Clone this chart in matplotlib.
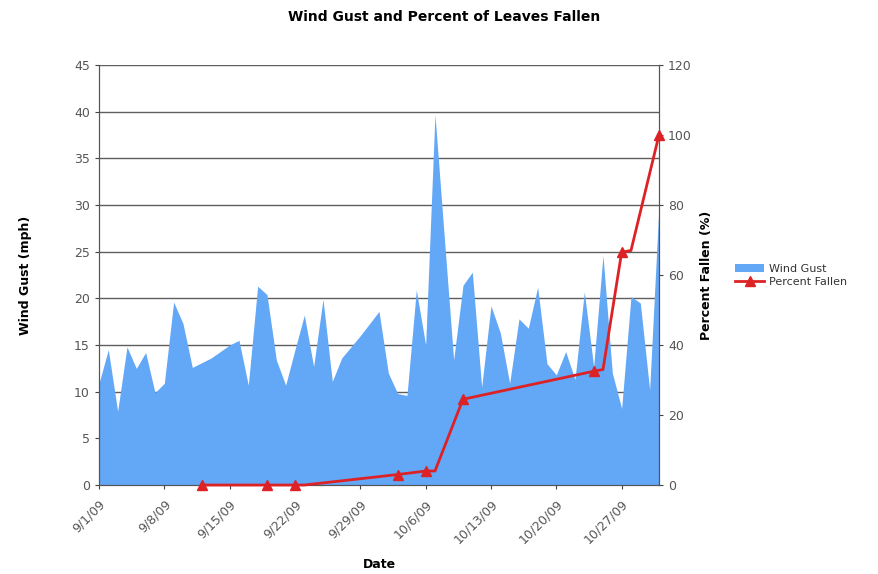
import numpy as np
import pandas as pd
import matplotlib
import matplotlib.pyplot as plt
import matplotlib.dates as mdates

matplotlib.use("Agg")

# Daily wind gust (mph), 9/1/09 - 10/31/09
gustDates = pd.date_range("2009-09-01", "2009-10-31", freq="D")
gustValues = [10.9, 14.5, 7.9, 14.8, 12.5, 14.2, 9.9, 10.9, 19.6, 17.3,
              12.6, 13.1, 13.6, 14.3, 15.0, 15.5, 10.7, 21.3, 20.4, 13.4,
              10.7, 14.5, 18.2, 12.7, 19.9, 11.1, 13.6, 14.8, 16.0, 17.3,
              18.6, 12.0, 9.8, 9.6, 20.9, 15.0, 39.7, 26.5, 13.4, 21.4,
              22.8, 10.5, 19.2, 16.3, 10.9, 17.8, 16.8, 21.2, 13.0, 11.8,
              14.3, 11.3, 20.7, 12.7, 24.6, 12.0, 8.2, 20.2, 19.5, 10.2,
              30.0]

# Percent of leaves fallen (observation days carry a marker)
pctDates = pd.to_datetime(["2009-09-12", "2009-09-19", "2009-09-22", "2009-09-23",
                           "2009-10-03", "2009-10-06", "2009-10-07", "2009-10-10",
                           "2009-10-24", "2009-10-25", "2009-10-27", "2009-10-28",
                           "2009-10-31"])
pctValues = [0, 0, 0, 0, 3, 4, 4, 24.5, 32.5, 33, 66.5, 67, 100]
pctMarked = [0, 1, 2, 4, 5, 7, 8, 10, 12]

tickDates = pd.date_range("2009-09-01", "2009-10-27", freq="7D")
tickLabels = ["9/1/09", "9/8/09", "9/15/09", "9/22/09", "9/29/09",
              "10/6/09", "10/13/09", "10/20/09", "10/27/09"]

gustColor = "#63a7f7"
pctColor = "#dd2226"
tickGray = "#555555"

fig = plt.figure(figsize=(8.79, 5.74), dpi=100)
ax = fig.add_axes([0.1126, 0.155, 0.6371, 0.7318])
ax2 = ax.twinx()

ax.fill_between(gustDates, gustValues, 0, color=gustColor, linewidth=0,
                label="Wind Gust", zorder=2)
ax.set_xlim(gustDates[0], gustDates[-1])
ax.set_ylim(0, 45)
ax.set_yticks(np.arange(0, 46, 5))
ax.grid(axis="y", color="#5e5e5e", linewidth=1.0, zorder=0)
ax.set_axisbelow(True)
ax.set_xticks(tickDates)
ax.set_xticklabels(tickLabels, rotation=45, ha="right", rotation_mode="anchor")

line, = ax2.plot(pctDates, pctValues, color=pctColor, linewidth=2,
                 marker="^", markersize=7, markevery=pctMarked,
                 label="Percent Fallen", zorder=3, clip_on=False)
ax2.set_ylim(0, 120)
ax2.set_yticks(np.arange(0, 121, 20))

for a in (ax, ax2):
    a.tick_params(labelsize=9, labelcolor=tickGray, color="#444444", length=3)
    for s in a.spines.values():
        s.set_color("#555555")
        s.set_linewidth(0.8)
    a.spines["top"].set_visible(False)
ax.tick_params(axis="x", pad=6)

ax.set_ylabel("Wind Gust (mph)", fontsize=9, fontweight="bold", labelpad=30)
ax2.set_ylabel("Percent Fallen (%)", fontsize=9, fontweight="bold", labelpad=6)
ax.set_xlabel("Date", fontsize=9, fontweight="bold", labelpad=8)
fig.suptitle("Wind Gust and Percent of Leaves Fallen", x=0.505, y=0.982,
             fontsize=10, fontweight="bold")

handles = [ax.collections[0], line]
fig.legend(handles, ["Wind Gust", "Percent Fallen"], loc="center left",
           bbox_to_anchor=(0.825, 0.52), frameon=False, fontsize=8,
           labelcolor="#333333", handlelength=2.6, handletextpad=0.4,
           labelspacing=0.3)

plt.savefig("out.png", dpi=100)
